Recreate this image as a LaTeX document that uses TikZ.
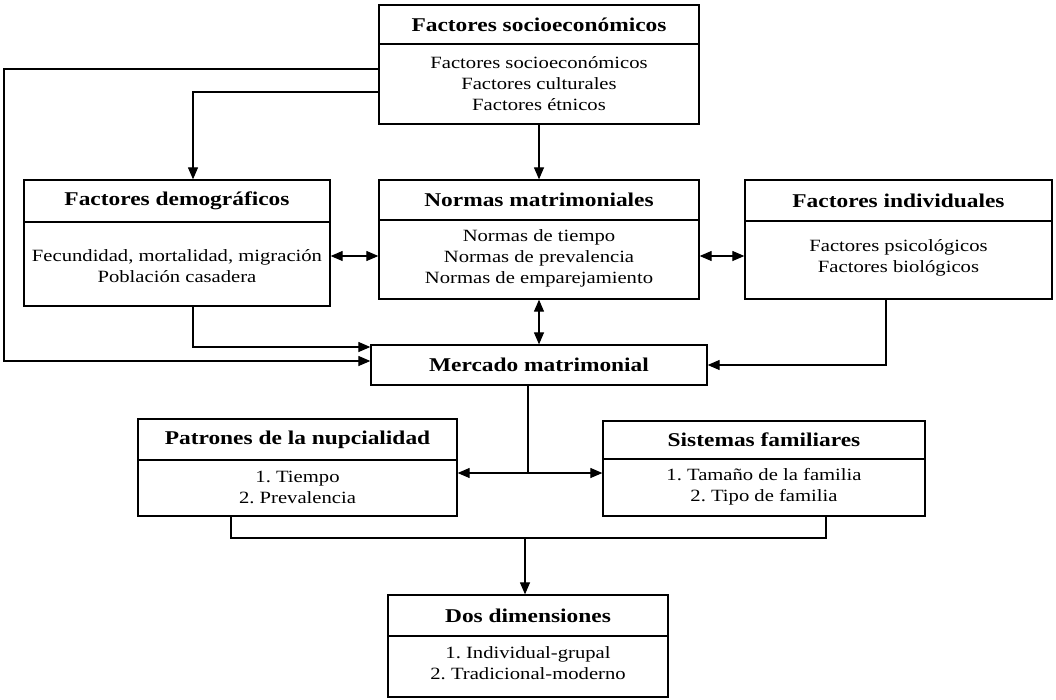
\documentclass[tikz,border=0pt]{standalone}
\usepackage{fontspec}
\setmainfont{Liberation Serif}[FakeStretch=1.2]
\usetikzlibrary{arrows.meta}
\tikzset{
  frame/.style={draw, line width=1.3pt, inner sep=0pt},
  head/.style={font=\fontsize{19.5}{22}\selectfont\bfseries, inner sep=0pt},
  body/.style={font=\fontsize{17.2}{21}\selectfont\frenchspacing, align=center, inner sep=0pt},
  conn/.style={line width=1.2pt},
  arr/.style={conn, -{Triangle[length=12pt,width=10pt]}},
  darr/.style={conn, {Triangle[length=12pt,width=10pt]}-{Triangle[length=12pt,width=10pt]}},
}
% #1 name, #2 x1, #3 y1, #4 x2, #5 y2, #6 ydiv, #7 header, #8 body y, #9 body
\newcommand\diagbox[9]{%
  \node[frame, minimum width={(#4-#2)*1pt}, minimum height={(#5-#3)*1pt}] (#1) at ({(#2+#4)/2},{(#3+#5)/2}) {};
  \draw[line width=1.3pt] (#2,#6) -- (#4,#6);
  \node[head] (#1h) at ({(#2+#4)/2},{(#3+#6)/2}) {#7};
  \node[body] (#1b) at ({(#2+#4)/2},#8) {#9};
}
\begin{document}
\begin{tikzpicture}[x=1pt,y=-1pt]
\useasboundingbox (0,0) rectangle (1056,699);
\diagbox{top}{379}{5}{699}{124}{44}{Factores socioeconómicos}{84}{Factores socioeconómicos\\Factores culturales\\Factores étnicos}
\diagbox{demo}{24}{180}{330}{306}{222}{Factores demográficos}{266}{Fecundidad, mortalidad, migración\\Población casadera}
\diagbox{norm}{379}{180}{699}{299}{220}{Normas matrimoniales}{258}{Normas de tiempo\\Normas de prevalencia\\Normas de emparejamiento}
\diagbox{indiv}{745}{180}{1052}{299}{221}{Factores individuales}{258}{Factores psicológicos\\Factores biológicos}
\node[frame, minimum width=336pt, minimum height=40pt] (merc) at (539,365) {};
\node[head] (merch) at (539,365) {Mercado matrimonial};
\diagbox{patr}{138}{419}{457}{516}{460}{Patrones de la nupcialidad}{487}{1. Tiempo\\2. Prevalencia}
\diagbox{sist}{603}{421}{925}{516}{459}{Sistemas familiares}{487}{1. Tamaño de la familia\\2. Tipo de familia}
\diagbox{dos}{388}{595}{668}{697}{636}{Dos dimensiones}{663}{1. Individual-grupal\\2. Tradicional-moderno}

\coordinate (L1) at (4,69);
\coordinate (L2) at (4,361);
\draw[arr] (top.west |- L1) -- (L1) -- (L2) -- (merc.west |- L2);
\coordinate (D1) at (193,92);
\draw[arr] (top.west |- D1) -- (D1) -- (demo.north -| D1);
\draw[arr] (top.south) -- (norm.north);
\coordinate (H1) at (0,256);
\draw[darr] (demo.east |- H1) -- (norm.west |- H1);
\draw[darr] (norm.east |- H1) -- (indiv.west |- H1);
\draw[darr] (norm.south) -- (merc.north);
\coordinate (D2) at (193,347);
\draw[arr] (demo.south -| D2) -- (D2) -- (merc.west |- D2);
\coordinate (I1) at (886,365);
\draw[arr] (indiv.south -| I1) -- (I1) -- (merc.east |- I1);
\coordinate (M1) at (528,473);
\draw[conn] (merc.south -| M1) -- (M1);
\draw[darr] (patr.east |- M1) -- (sist.west |- M1);
\coordinate (B1) at (231,538);
\coordinate (B2) at (826,538);
\coordinate (B3) at (525,538);
\draw[conn] (patr.south -| B1) -- (B1) -- (B2) -- (sist.south -| B2);
\draw[arr] (B3) -- (dos.north -| B3);
\end{tikzpicture}
\end{document}
